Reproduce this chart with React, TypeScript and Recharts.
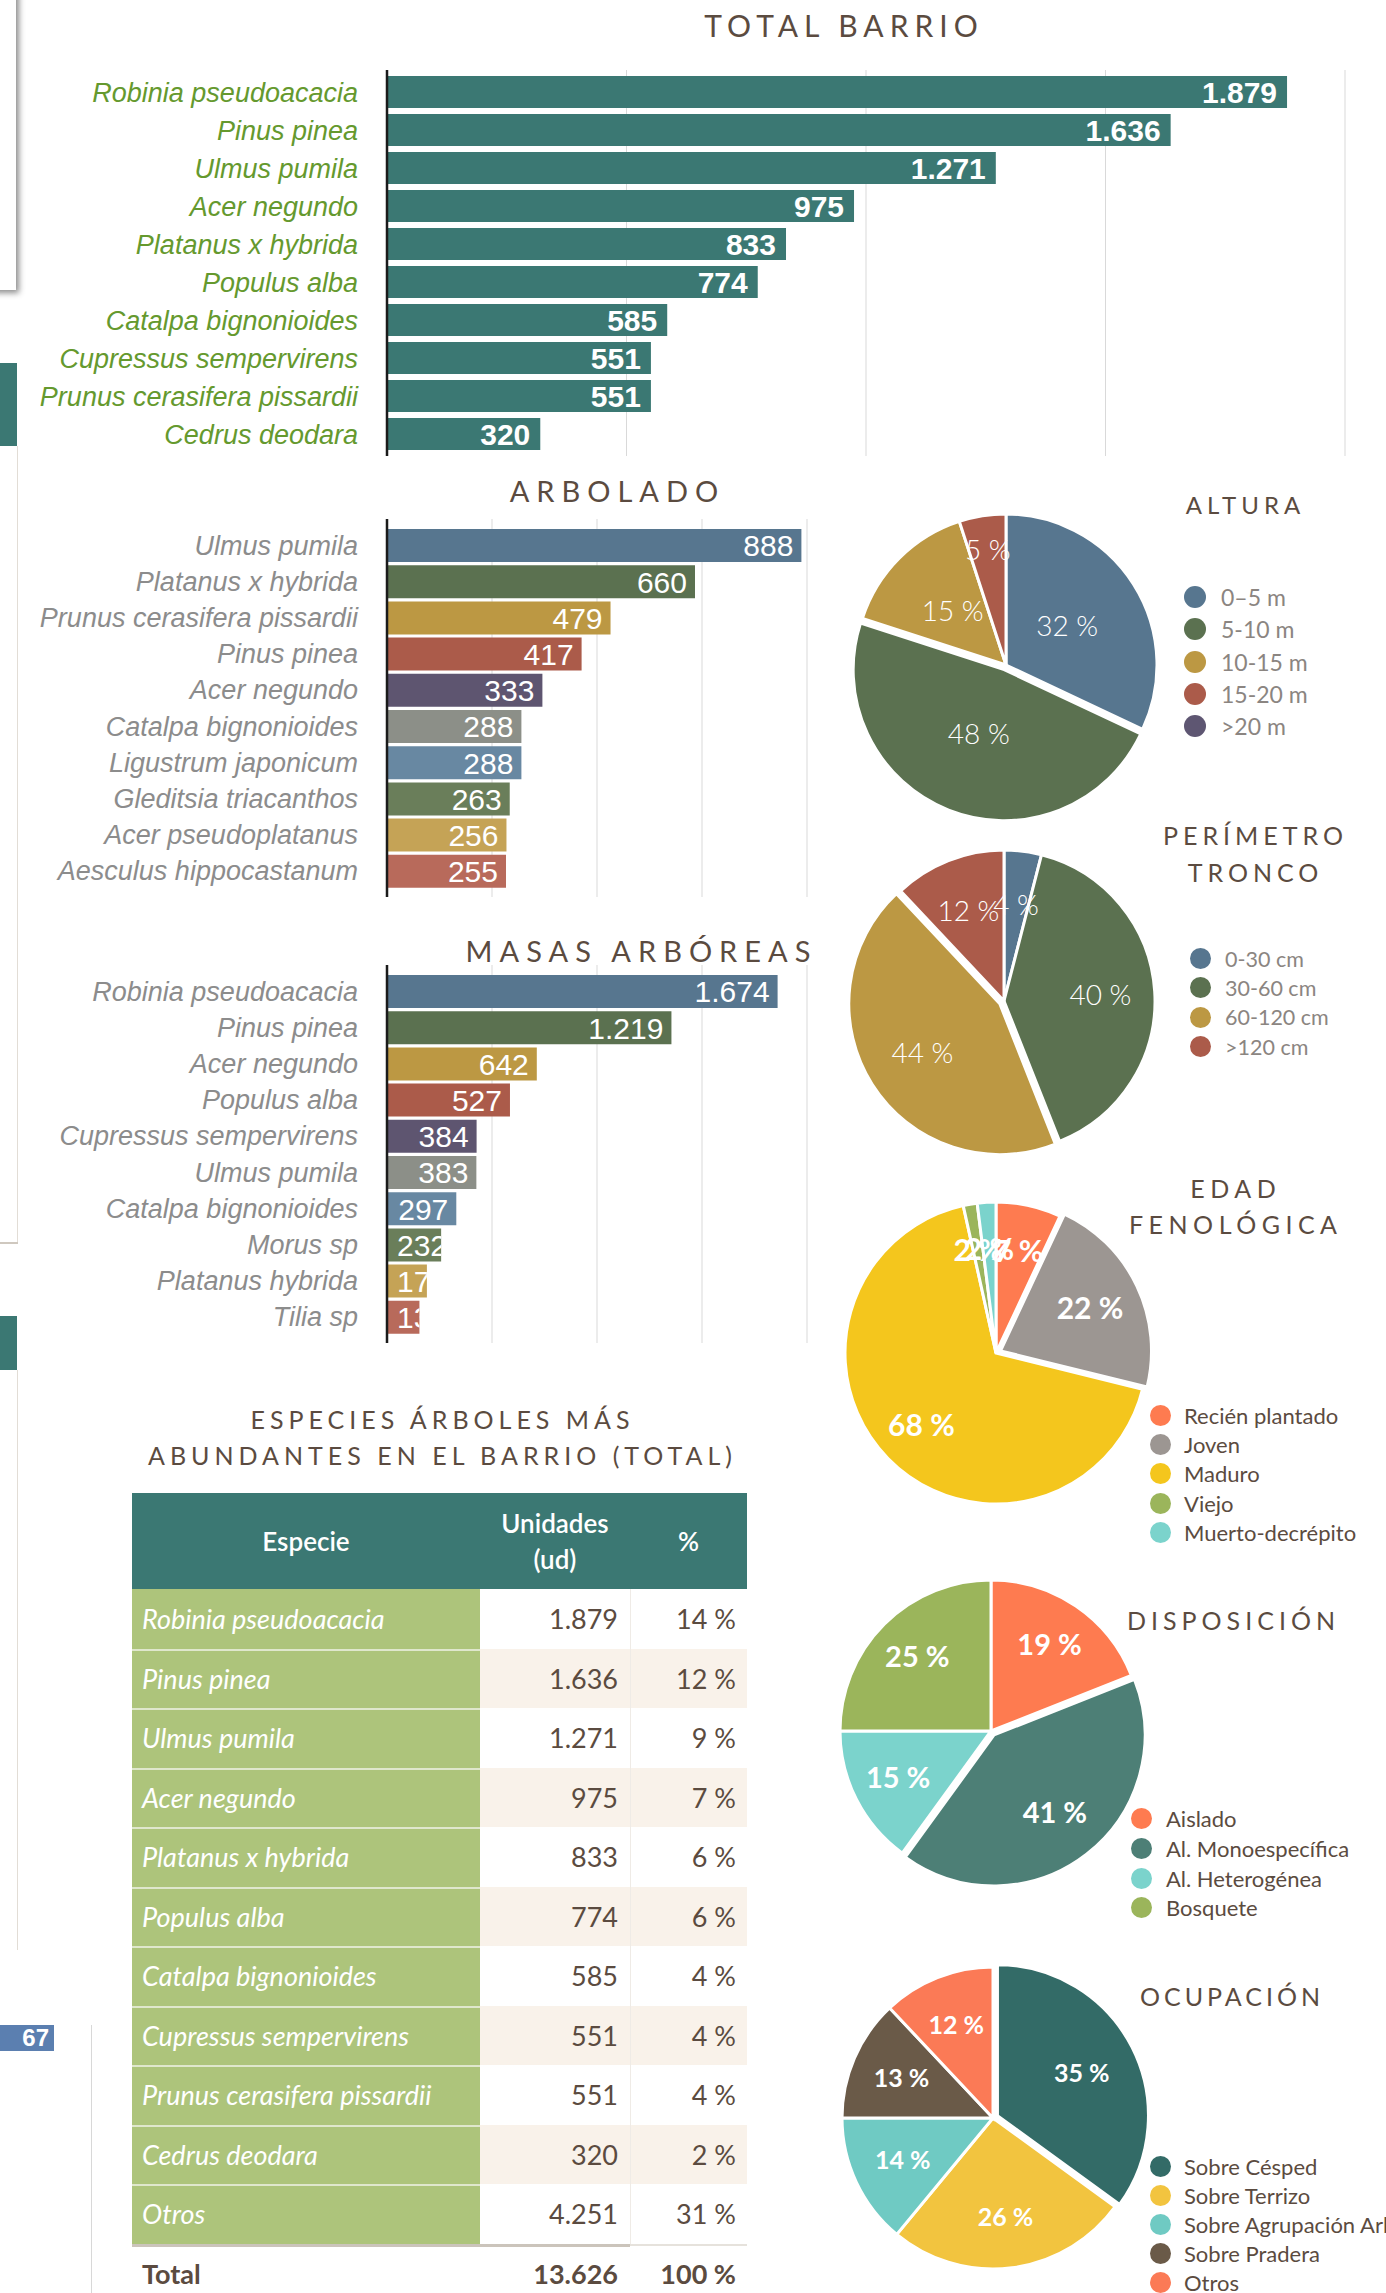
import React from 'react';
import { BarChart, Bar, XAxis, YAxis, CartesianGrid, LabelList, Cell, PieChart, Pie, Legend } from 'recharts';

// ---- TOTAL BARRIO
const totalSpecies = ['Robinia pseudoacacia', 'Pinus pinea', 'Ulmus pumila', 'Acer negundo', 'Platanus x hybrida', 'Populus alba', 'Catalpa bignonioides', 'Cupressus sempervirens', 'Prunus cerasifera pissardii', 'Cedrus deodara'];
const totalUnits = [1879, 1636, 1271, 975, 833, 774, 585, 551, 551, 320];
const totalTicks = [0, 500, 1000, 1500, 2000];

// ---- ARBOLADO
const arboladoSpecies = ['Ulmus pumila', 'Platanus x hybrida', 'Prunus cerasifera pissardii', 'Pinus pinea', 'Acer negundo', 'Catalpa bignonioides', 'Ligustrum japonicum', 'Gleditsia triacanthos', 'Acer pseudoplatanus', 'Aesculus hippocastanum'];
const arboladoUnits = [888, 660, 479, 417, 333, 288, 288, 263, 256, 255];
const arboladoTicks = [0, 225, 450, 675, 900];

// ---- MASAS ARBÓREAS
const masasSpecies = ['Robinia pseudoacacia', 'Pinus pinea', 'Acer negundo', 'Populus alba', 'Cupressus sempervirens', 'Ulmus pumila', 'Catalpa bignonioides', 'Morus sp', 'Platanus hybrida', 'Tilia sp'];
const masasUnits = [1674, 1219, 642, 527, 384, 383, 297, 232, 171, 139];
const masasTicks = [0, 450, 900, 1350, 1800];

const barPalette = ['#57768f', '#5b7150', '#bc9843', '#ab5b4a', '#5e5570', '#8c8f88', '#6888a2', '#6a7e5a', '#c5a356', '#b86a5b'];

// ---- pies (percent)
const alturaNames = ['0–5 m', '5-10 m', '10-15 m', '15-20 m', '>20 m'];
const alturaPct = [32, 48, 15, 5, 0];
const alturaColors = ['#57768f', '#5b7150', '#bc9843', '#ab5b4a', '#5e5672'];

const perimetroNames = ['0-30 cm', '30-60 cm', '60-120 cm', '>120 cm'];
const perimetroPct = [4, 40, 44, 12];
const perimetroColors = ['#57768f', '#5b7150', '#bc9843', '#ab5b4a'];

const edadNames = ['Recién plantado', 'Joven', 'Maduro', 'Viejo', 'Muerto-decrépito'];
const edadPct = [7, 22, 68, 1.5, 2];
const edadColors = ['#fe7b50', '#9c9692', '#f4c61d', '#9bb55b', '#7bd3cc'];

const disposicionNames = ['Aislado', 'Al. Monoespecífica', 'Al. Heterogénea', 'Bosquete'];
const disposicionPct = [19, 41, 15, 25];
const disposicionColors = ['#fe7b50', '#4d7f76', '#7bd3cc', '#9bb55b'];

const ocupacionNames = ['Sobre Césped', 'Sobre Terrizo', 'Sobre Agrupación Arbustiva', 'Sobre Pradera', 'Otros'];
const ocupacionPct = [35, 26, 14, 13, 12];
const ocupacionColors = ['#336b67', '#f2c43f', '#6fcac3', '#6a5a48', '#fb7a56'];

// ---- table
const tableSpecies = [...totalSpecies, 'Otros'];
const tableUnits = [...totalUnits, 4251];
const tablePct = [14, 12, 9, 7, 6, 6, 4, 4, 4, 2, 31];
const tableTotal = 13626;
const tableTotalPct = 100;

const SANS = '"Liberation Sans", Arial, Helvetica, sans-serif';
const AVENIR = 'Lato, "Noto Sans", sans-serif';
const BROWN = '#5b4b40';

const fmt = (n: number) => String(n).replace(/\B(?=(\d{3})+(?!\d))/g, '.');

function valueLabel(id: string, fontSize: number, fontWeight: number, pad: number) {
  return (props: any) => {
    const vb = props.viewBox ?? props;
    const x = Number(vb.x ?? props.x);
    const y = Number(vb.y ?? props.y);
    const w = Number(vb.width ?? props.width);
    const h = Number(vb.height ?? props.height);
    const text = fmt(Number(props.value));
    const textW = text.split('').reduce((s, c) => s + (c === '.' ? 0.278 : 0.556), 0) * fontSize;
    const fits = textW + pad + 4 <= w;
    const clipId = `${id}-clip-${props.index}`;
    return (
      <g>
        <defs>
          <clipPath id={clipId}>
            <rect x={x} y={y} width={w} height={h} />
          </clipPath>
        </defs>
        <text
          x={fits ? x + w - pad : x + 10}
          y={y + h / 2}
          dy="0.36em"
          textAnchor={fits ? 'end' : 'start'}
          fill="#fff"
          fontSize={fontSize}
          fontWeight={fontWeight}
          fontFamily={SANS}
          clipPath={`url(#${clipId})`}
        >
          {text}
        </text>
      </g>
    );
  };
}

function HBars(props: any) {
  const { id, names, values, colors, ticks, width, height, margin, axisPad, barSize, tickColor, valueSize, valueWeight, valuePad } = props;
  const data = names.map((name: string, i: number) => ({ name, value: values[i] }));
  return (
    <BarChart width={width} height={height} data={data} layout="vertical" margin={margin}>
      <CartesianGrid horizontal={false} stroke="#d9d9d9" />
      <XAxis type="number" domain={[0, ticks[ticks.length - 1]]} ticks={ticks} hide />
      <YAxis
        type="category"
        dataKey="name"
        width={381}
        interval={0}
        tickLine={false}
        tickSize={0}
        tickMargin={29}
        axisLine={{ stroke: '#1b1b1b', strokeWidth: 2.5 }}
        padding={{ top: axisPad, bottom: axisPad }}
        tick={{ fill: tickColor, fontSize: 27, fontStyle: 'italic', fontFamily: SANS }}
      />
      <Bar dataKey="value" barSize={barSize} isAnimationActive={false}>
        {data.map((_: any, i: number) => (
          <Cell key={`c-${i}`} fill={colors[i % colors.length]} />
        ))}
        <LabelList dataKey="value" content={valueLabel(id, valueSize, valueWeight, valuePad)} />
      </Bar>
    </BarChart>
  );
}

const EXPLODE = 5;

function pieLabel(labelR: number | number[], size: number, weight: number) {
  return (p: any) => {
    if (!p.value) return null;
    const RAD = Math.PI / 180;
    const frac = Array.isArray(labelR) ? labelR[p.index] : labelR;
    const r = p.outerRadius * frac;
    const x = p.cx + r * Math.cos(-p.midAngle * RAD);
    const y = p.cy + r * Math.sin(-p.midAngle * RAD);
    return (
      <text x={x} y={y} dy="0.35em" textAnchor="middle" fill="#fff" fontSize={size} fontWeight={weight} fontFamily={AVENIR}>
        {`${Math.round(p.value)} %`}
      </text>
    );
  };
}

function PieBlock(props: any) {
  const { names, values, colors, explode, width, height, cx, cy, labelR, labelSize, labelWeight, legendLeft, legendTop, rowH, dot, legendFont, legendColor, legendGap } = props;
  const data = names.map((name: string, i: number) => ({ name, value: values[i] }));
  const total = values.reduce((a: number, b: number) => a + b, 0);
  const before = values.slice(0, explode).reduce((a: number, b: number) => a + b, 0);
  const mid = ((before + values[explode] / 2) / total) * 2 * Math.PI;
  const dx = EXPLODE * Math.sin(mid);
  const dy = -EXPLODE * Math.cos(mid);
  return (
    <PieChart width={width} height={height} margin={{ top: 0, right: 0, bottom: 0, left: 0 }}>
      <Pie
        data={data}
        dataKey="value"
        nameKey="name"
        cx={cx}
        cy={cy}
        outerRadius={151}
        startAngle={90}
        endAngle={-270}
        isAnimationActive={false}
        labelLine={false}
        label={pieLabel(labelR, labelSize, labelWeight)}
      >
        {data.map((_: any, i: number) => (
          <Cell key={`a-${i}`} fill={i === explode ? 'none' : colors[i]} stroke={i === explode ? 'none' : '#fff'} strokeWidth={3} />
        ))}
      </Pie>
      <Pie
        data={data}
        dataKey="value"
        nameKey="name"
        cx={cx + dx}
        cy={cy + dy}
        outerRadius={151}
        startAngle={90}
        endAngle={-270}
        isAnimationActive={false}
        legendType="none"
        labelLine={false}
        label={false}
      >
        {data.map((_: any, i: number) => (
          <Cell key={`b-${i}`} fill={i === explode ? colors[i] : 'none'} stroke={i === explode ? '#fff' : 'none'} strokeWidth={3} />
        ))}
      </Pie>
      <Legend
        layout="vertical"
        align="right"
        verticalAlign="middle"
        wrapperStyle={{ left: legendLeft, top: legendTop, right: 'auto', width: 'auto' }}
        content={() => (
          <div>
            {data.map((item: any, i: number) => (
              <div key={`l-${i}`} style={{ display: 'flex', alignItems: 'center', height: rowH, whiteSpace: 'nowrap' }}>
                <span style={{ width: dot, height: dot, borderRadius: '50%', background: colors[i], marginRight: legendGap, flex: 'none' }} />
                <span style={{ fontSize: legendFont, color: legendColor, fontFamily: AVENIR }}>{item.name}</span>
              </div>
            ))}
          </div>
        )}
      />
    </PieChart>
  );
}

function Title({ lines, x, y, size, spacing, lineH }: any) {
  return (
    <div
      style={{
        position: 'absolute',
        left: x - 400,
        top: y - (lines.length * lineH) / 2,
        width: 800,
        textAlign: 'center',
        fontFamily: AVENIR,
        fontSize: size,
        letterSpacing: spacing,
        paddingLeft: spacing,
        boxSizing: 'border-box',
        lineHeight: `${lineH}px`,
        color: BROWN,
        whiteSpace: 'nowrap',
      }}
    >
      {lines.map((l: string) => (
        <div key={l}>{l}</div>
      ))}
    </div>
  );
}

function SpeciesTable() {
  const rows = tableSpecies.map((name, i) => ({ name, units: tableUnits[i], pct: tablePct[i] }));
  const num: React.CSSProperties = { textAlign: 'right', color: BROWN, fontSize: 27, padding: 0 };
  return (
    <table style={{ position: 'absolute', left: 132, top: 1493, width: 615, borderCollapse: 'collapse', tableLayout: 'fixed', fontFamily: AVENIR }}>
      <colgroup>
        <col style={{ width: 348 }} />
        <col style={{ width: 150 }} />
        <col style={{ width: 117 }} />
      </colgroup>
      <thead>
        <tr style={{ height: 96, background: '#3b7873', color: '#fff', fontSize: 26 }}>
          <th style={{ padding: 0, fontWeight: 600 }}>Especie</th>
          <th style={{ padding: 0, fontWeight: 600, lineHeight: '36px' }}>
            Unidades
            <br />
            (ud)
          </th>
          <th style={{ padding: 0, fontWeight: 600 }}>%</th>
        </tr>
      </thead>
      <tbody>
        {rows.map((r, i) => {
          const bg = i % 2 === 1 ? '#f9f2ea' : '#fff';
          return (
            <tr key={r.name} style={{ height: 59.5 }}>
              <td
                style={{
                  background: '#adc47b',
                  color: '#fff',
                  fontStyle: 'italic',
                  fontSize: 27,
                  padding: '0 0 0 10px',
                  whiteSpace: 'nowrap',
                  boxShadow: i > 0 ? 'inset 0 2px 0 #dfe7cc' : 'none',
                }}
              >
                {r.name}
              </td>
              <td style={{ ...num, background: bg, paddingRight: 12 }}>{fmt(r.units)}</td>
              <td style={{ ...num, background: bg, paddingRight: 11, boxShadow: 'inset 1px 0 0 #efebe6' }}>{r.pct} %</td>
            </tr>
          );
        })}
      </tbody>
      <tfoot>
        <tr style={{ height: 60 }}>
          <td style={{ padding: '0 0 0 10px', fontSize: 27, fontWeight: 700, color: BROWN, boxShadow: 'inset 0 3px 0 #cbc4bb' }}>Total</td>
          <td style={{ ...num, fontWeight: 700, paddingRight: 12, boxShadow: 'inset 0 3px 0 #cbc4bb' }}>{fmt(tableTotal)}</td>
          <td style={{ ...num, fontWeight: 700, paddingRight: 11, boxShadow: 'inset 0 2px 0 #e6e2dc' }}>{tableTotalPct} %</td>
        </tr>
      </tfoot>
    </table>
  );
}

function LeftEdge() {
  return (
    <>
      <div style={{ position: 'absolute', left: -30, top: -10, width: 46, height: 300, background: '#fff', boxShadow: '3px 3px 6px rgba(0,0,0,0.45)' }} />
      <div style={{ position: 'absolute', left: 0, top: 363, width: 17, height: 83, background: '#3b7873' }} />
      <div style={{ position: 'absolute', left: 17, top: 446, width: 1, height: 797, background: '#e2ddd6' }} />
      <div style={{ position: 'absolute', left: 0, top: 1242, width: 18, height: 2, background: '#cfc8bf' }} />
      <div style={{ position: 'absolute', left: 0, top: 1316, width: 17, height: 54, background: '#3b7873' }} />
      <div style={{ position: 'absolute', left: 17, top: 1370, width: 1, height: 580, background: '#e2ddd6' }} />
      <div
        style={{
          position: 'absolute',
          left: 0,
          top: 2025,
          width: 54,
          height: 26,
          background: '#5b7fb0',
          color: '#fff',
          fontFamily: SANS,
          fontWeight: 700,
          fontSize: 24,
          lineHeight: '26px',
          textAlign: 'right',
          paddingRight: 5,
          boxSizing: 'border-box',
        }}
      >
        67
      </div>
      <div style={{ position: 'absolute', left: 91, top: 2025, width: 1, height: 268, background: '#d8d8d8' }} />
    </>
  );
}

export default function App() {
  return (
    <div style={{ position: 'absolute', left: 0, top: 0, width: 1386, height: 2293, overflow: 'hidden', background: '#fff', fontFamily: AVENIR }}>
      <LeftEdge />

      <Title lines={['TOTAL BARRIO']} x={841} y={25} size={30} spacing={6} lineH={36} />
      <div style={{ position: 'absolute', left: 0, top: 0 }}>
        <HBars
          id="total"
          names={totalSpecies}
          values={totalUnits}
          colors={['#3b7873']}
          ticks={totalTicks}
          width={1386}
          height={480}
          margin={{ top: 70, right: 41, bottom: 24, left: 6 }}
          axisPad={3}
          barSize={32}
          tickColor="#65992e"
          valueSize={30}
          valueWeight={700}
          valuePad={10}
        />
      </div>

      <Title lines={['ARBOLADO']} x={614} y={491} size={29} spacing={7} lineH={36} />
      <div style={{ position: 'absolute', left: 0, top: 480 }}>
        <HBars
          id="arbolado"
          names={arboladoSpecies}
          values={arboladoUnits}
          colors={barPalette}
          ticks={arboladoTicks}
          width={830}
          height={440}
          margin={{ top: 39, right: 23, bottom: 23, left: 6 }}
          axisPad={8}
          barSize={33}
          tickColor="#8c8c8c"
          valueSize={30}
          valueWeight={400}
          valuePad={8}
        />
      </div>

      <Title lines={['MASAS ARBÓREAS']} x={638} y={951} size={29} spacing={7} lineH={36} />
      <div style={{ position: 'absolute', left: 0, top: 920 }}>
        <HBars
          id="masas"
          names={masasSpecies}
          values={masasUnits}
          colors={barPalette}
          ticks={masasTicks}
          width={830}
          height={440}
          margin={{ top: 45, right: 23, bottom: 17, left: 6 }}
          axisPad={8}
          barSize={33}
          tickColor="#8c8c8c"
          valueSize={30}
          valueWeight={400}
          valuePad={8}
        />
      </div>

      <Title lines={['ESPECIES ÁRBOLES MÁS', 'ABUNDANTES EN EL BARRIO (TOTAL)']} x={440} y={1437} size={25} spacing={5} lineH={36} />
      <SpeciesTable />

      <div style={{ position: 'absolute', left: 830, top: 480 }}>
        <PieBlock
          names={alturaNames}
          values={alturaPct}
          colors={alturaColors}
          explode={1}
          width={556}
          height={380}
          cx={176}
          cy={185}
          labelR={[0.48, 0.49, 0.5, 0.77, 0.5]}
          labelSize={28}
          labelWeight={300}
          legendLeft={354}
          legendTop={101}
          rowH={32.3}
          dot={22}
          legendFont={23}
          legendColor="#8b8581"
          legendGap={15}
        />
      </div>
      <Title lines={['ALTURA']} x={1243} y={505} size={24} spacing={5} lineH={34} />

      <div style={{ position: 'absolute', left: 830, top: 840 }}>
        <PieBlock
          names={perimetroNames}
          values={perimetroPct}
          colors={perimetroColors}
          explode={2}
          width={556}
          height={330}
          cx={174}
          cy={161}
          labelR={0.64}
          labelSize={28}
          labelWeight={300}
          legendLeft={360}
          legendTop={104}
          rowH={29.3}
          dot={21}
          legendFont={21.5}
          legendColor="#8b8581"
          legendGap={14}
        />
      </div>
      <Title lines={['PERÍMETRO', 'TRONCO']} x={1253} y={854} size={25} spacing={5} lineH={37} />

      <div style={{ position: 'absolute', left: 830, top: 1180 }}>
        <PieBlock
          names={edadNames}
          values={edadPct}
          colors={edadColors}
          explode={1}
          width={556}
          height={380}
          cx={166}
          cy={173}
          labelR={0.69}
          labelSize={30}
          labelWeight={700}
          legendLeft={320}
          legendTop={221}
          rowH={29.2}
          dot={21}
          legendFont={22}
          legendColor={BROWN}
          legendGap={13}
        />
      </div>
      <Title lines={['EDAD', 'FENOLÓGICA']} x={1233} y={1206} size={25} spacing={5.5} lineH={36} />

      <div style={{ position: 'absolute', left: 830, top: 1560 }}>
        <PieBlock
          names={disposicionNames}
          values={disposicionPct}
          colors={disposicionColors}
          explode={1}
          width={556}
          height={360}
          cx={161}
          cy={171}
          labelR={0.69}
          labelSize={29}
          labelWeight={700}
          legendLeft={301}
          legendTop={244}
          rowH={29.7}
          dot={21}
          legendFont={22}
          legendColor={BROWN}
          legendGap={14}
        />
      </div>
      <Title lines={['DISPOSICIÓN']} x={1231} y={1620} size={25} spacing={5} lineH={36} />

      <div style={{ position: 'absolute', left: 830, top: 1940 }}>
        <PieBlock
          names={ocupacionNames}
          values={ocupacionPct}
          colors={ocupacionColors}
          explode={0}
          width={556}
          height={353}
          cx={163}
          cy={178}
          labelR={0.66}
          labelSize={25}
          labelWeight={700}
          legendLeft={320}
          legendTop={212}
          rowH={29}
          dot={21}
          legendFont={22}
          legendColor={BROWN}
          legendGap={13}
        />
      </div>
      <Title lines={['OCUPACIÓN']} x={1230} y={1996} size={25} spacing={4} lineH={36} />
    </div>
  );
}
